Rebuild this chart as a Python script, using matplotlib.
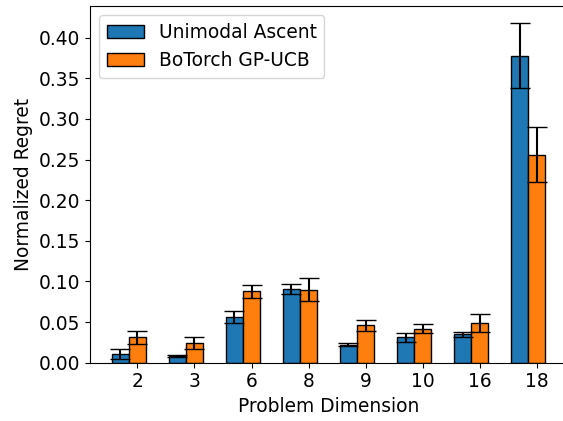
import numpy as np
import matplotlib
matplotlib.use('Agg')
import matplotlib.pyplot as plt

dims = ['2', '3', '6', '8', '9', '10', '16', '18']
ua_mean = [0.011, 0.008, 0.056, 0.091, 0.022, 0.031, 0.035, 0.378]
ua_err = [0.006, 0.001, 0.007, 0.006, 0.002, 0.006, 0.003, 0.040]
gp_mean = [0.031, 0.024, 0.088, 0.090, 0.046, 0.042, 0.049, 0.256]
gp_err = [0.008, 0.007, 0.008, 0.014, 0.007, 0.005, 0.011, 0.034]

plt.rcParams['font.size'] = 13.4

x = np.arange(len(dims))
w = 0.3

fig, ax = plt.subplots(figsize=(5.63, 4.21), dpi=100)
ax.bar(x - w, ua_mean, w, yerr=ua_err, capsize=7, edgecolor='black',
       color='#1f77b4', label='Unimodal Ascent')
ax.bar(x, gp_mean, w, yerr=gp_err, capsize=7, edgecolor='black',
       color='#ff7f0e', label='BoTorch GP-UCB')
ax.set_xticks(x)
ax.set_xticklabels(dims)
ax.set_xlabel('Problem Dimension')
ax.set_ylabel('Normalized Regret')
ax.legend(loc='upper left')
# the original is cropped just inside the right spine
ax.spines['right'].set_visible(False)
fig.subplots_adjust(left=0.16, right=1.007, bottom=0.1385, top=0.9857)
fig.savefig('out.png')
